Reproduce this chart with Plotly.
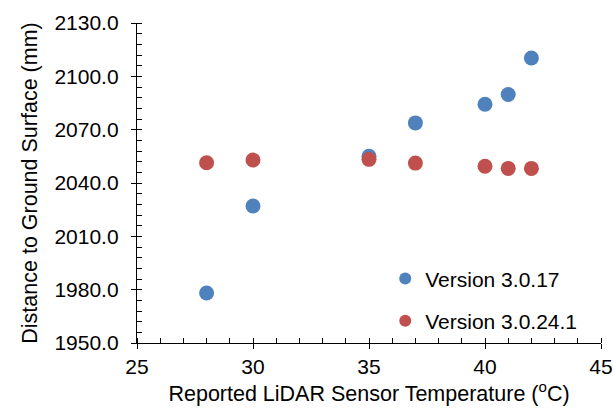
import plotly.graph_objects as go

temps = [28, 30, 35, 37, 40, 41, 42]
v3017 = [1978.1, 2027.1, 2055.0, 2073.8, 2084.3, 2089.8, 2110.3]
v30241 = [2051.4, 2052.9, 2053.3, 2051.2, 2049.4, 2048.2, 2048.2]
series_names = ["Version 3.0.17", "Version 3.0.24.1"]
colors = ["#4F81BD", "#C0504D"]
x_ticks = [25, 30, 35, 40, 45]
y_ticks = [1950, 1980, 2010, 2040, 2070, 2100, 2130]

FONT = "Liberation Sans, Arial, sans-serif"

fig = go.Figure()
for i, (name, vals) in enumerate(zip(series_names, [v3017, v30241])):
    fig.add_trace(go.Scatter(
        x=temps, y=vals, mode="markers", name=name,
        legendgroup=f"g{i}",
        marker=dict(size=15, color=colors[i], line=dict(width=0)),
    ))

axis_common = dict(
    showline=True, linecolor="black", linewidth=1.3, mirror=False,
    showgrid=False, zeroline=False,
    ticks="outside", ticklen=5, tickwidth=1.3, tickcolor="black",
    tickfont=dict(family=FONT, size=21, color="black"),
)

fig.update_xaxes(
    **axis_common,
    range=[25, 45], tickvals=x_ticks, ticktext=[str(t) for t in x_ticks],
    minor=dict(ticks="inside", ticklen=5, tickwidth=1.3, tickcolor="black", dtick=1, showgrid=False),
    title=dict(text="Reported LiDAR Sensor Temperature (<sup>o</sup>C)",
               font=dict(family=FONT, size=21.5, color="black"), standoff=8),
)
fig.update_yaxes(
    **axis_common,
    range=[1950, 2130], tickvals=y_ticks, ticktext=[f"{t:.1f}" for t in y_ticks],
    minor=dict(ticks="inside", ticklen=5, tickwidth=1.3, tickcolor="black", dtick=6, showgrid=False),
    ticklabelstandoff=8,
    title=dict(text="Distance to Ground Surface (mm)",
               font=dict(family=FONT, size=21.5, color="black"), standoff=10),
)

fig.update_layout(
    width=613, height=409,
    margin=dict(l=137, r=12, t=23, b=66, autoexpand=False),
    paper_bgcolor="white", plot_bgcolor="white",
    showlegend=True,
    legend=dict(x=0.535, y=0.135, xanchor="left", yanchor="middle",
                font=dict(family=FONT, size=21, color="black"),
                bgcolor="rgba(0,0,0,0)", tracegroupgap=12, itemsizing="constant"),
)

fig.write_html("out.html", config={"displayModeBar": False},
               post_script="document.body.style.margin='0';")
